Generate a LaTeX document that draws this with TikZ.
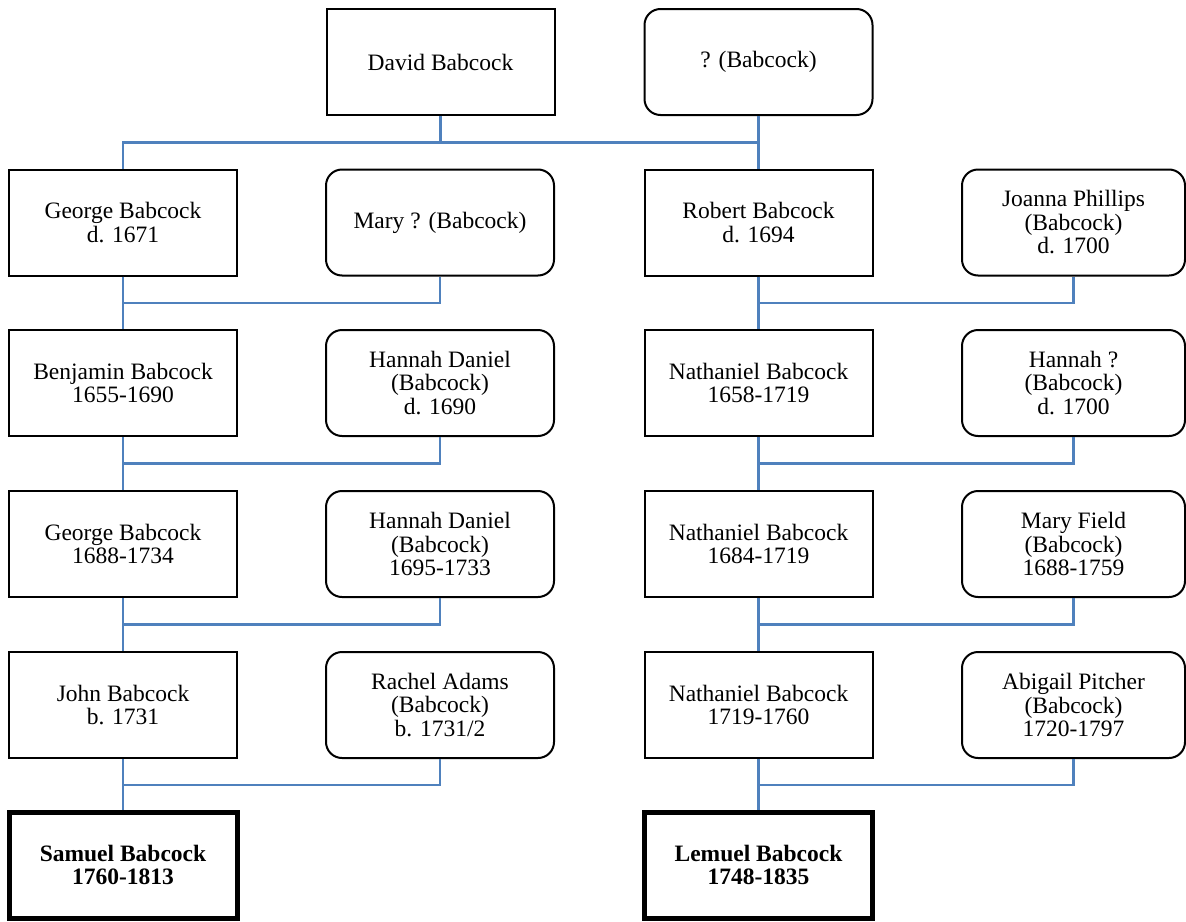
\documentclass[tikz,border=0pt]{standalone}
\usepackage{fontspec}
\setmainfont{Liberation Serif}
\definecolor{linkblue}{HTML}{4F81BD}
\begin{document}
\begin{tikzpicture}[x=1pt,y=-1pt,
  box/.style={draw=black, line width=2pt, minimum width=228pt, minimum height=106pt,
    align=center, inner sep=0pt, font=\fontsize{23.5}{23.5}\selectfont},
  rbox/.style={box, rounded corners=16pt},
  rboxn/.style={rbox, minimum width=223pt},
  bbox/.style={box, line width=5pt, font=\fontsize{23.5}{23.5}\selectfont\bfseries},
  link/.style={draw=linkblue, line width=2.5pt}]
\useasboundingbox (0,0) rectangle (1186,921);
% row 1
\node[box]  (david) at (440.5,62) {David Babcock};
\node[rbox] (q)     at (758.5,62) {? (Babcock)};
% row 2
\node[box]  (george1) at (123,222.5) {George Babcock\\d. 1671};
\node[rbox] (mary1)   at (440,222.5) {Mary ? (Babcock)};
\node[box]  (robert)  at (758.5,222.5) {Robert Babcock\\d. 1694};
\node[rboxn] (joanna) at (1073.5,222.5) {Joanna Phillips\\(Babcock)\\d. 1700};
% row 3
\node[box]  (benjamin) at (123,383) {Benjamin Babcock\\1655-1690};
\node[rbox] (hannah1)  at (440,383) {Hannah Daniel\\(Babcock)\\d. 1690};
\node[box]  (nath1)    at (758.5,383) {Nathaniel Babcock\\1658-1719};
\node[rboxn] (hannah2) at (1073.5,383) {Hannah ?\\(Babcock)\\d. 1700};
% row 4
\node[box]  (george2) at (123,544) {George Babcock\\1688-1734};
\node[rbox] (hannah3) at (440,544) {Hannah Daniel\\(Babcock)\\1695-1733};
\node[box]  (nath2)   at (758.5,544) {Nathaniel Babcock\\1684-1719};
\node[rboxn] (maryf)  at (1073.5,544) {Mary Field\\(Babcock)\\1688-1759};
% row 5
\node[box]  (john)    at (123,705) {John Babcock\\b. 1731};
\node[rbox] (rachel)  at (440,705) {Rachel Adams\\(Babcock)\\b. 1731/2};
\node[box]  (nath3)   at (758.5,705) {Nathaniel Babcock\\1719-1760};
\node[rboxn] (abigail) at (1073.5,705) {Abigail Pitcher\\(Babcock)\\1720-1797};
% row 6
\node[bbox] (samuel) at (123,865) {Samuel Babcock\\1760-1813};
\node[bbox] (lemuel) at (758.5,865) {Lemuel Babcock\\1748-1835};
% junction levels
\coordinate (j0) at (0,142.5);
\coordinate (j1) at (0,303);
\coordinate (j2) at (0,463.5);
\coordinate (j3) at (0,624.5);
\coordinate (j4) at (0,785);
% connectors
\draw[link] (george1.north) |- (robert.north |- j0) -- (robert.north);
\draw[link] (david.south) -- (david.south |- j0);
\draw[link] (q.south) -- (q.south |- j0);
% left family
\draw[link] (george1.south) |- (mary1.south |- j1) -- (mary1.south);
\draw[link] (george1.south) -- (benjamin.north);
\draw[link] (benjamin.south) |- (hannah1.south |- j2) -- (hannah1.south);
\draw[link] (benjamin.south) -- (george2.north);
\draw[link] (george2.south) |- (hannah3.south |- j3) -- (hannah3.south);
\draw[link] (george2.south) -- (john.north);
\draw[link] (john.south) |- (rachel.south |- j4) -- (rachel.south);
\draw[link] (john.south) -- (samuel.north);
% right family
\draw[link] (robert.south) |- (joanna.south |- j1) -- (joanna.south);
\draw[link] (robert.south) -- (nath1.north);
\draw[link] (nath1.south) |- (hannah2.south |- j2) -- (hannah2.south);
\draw[link] (nath1.south) -- (nath2.north);
\draw[link] (nath2.south) |- (maryf.south |- j3) -- (maryf.south);
\draw[link] (nath2.south) -- (nath3.north);
\draw[link] (nath3.south) |- (abigail.south |- j4) -- (abigail.south);
\draw[link] (nath3.south) -- (lemuel.north);
\end{tikzpicture}
\end{document}
